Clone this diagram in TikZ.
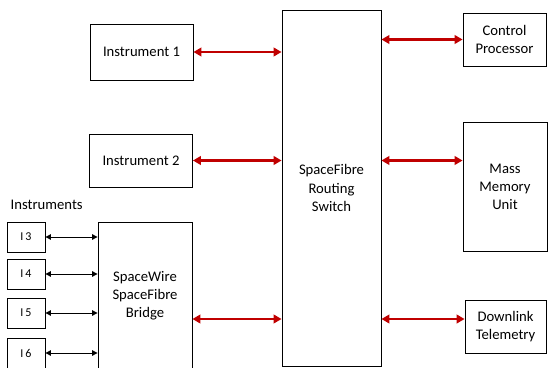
\documentclass[tikz,border=0pt]{standalone}
\usepackage{fontspec}
\setmainfont{Carlito}
\usetikzlibrary{arrows.meta,positioning}
\definecolor{linkred}{HTML}{C00000}

\begin{document}
\begin{tikzpicture}[x=.75pt,y=-.75pt,
  blk/.style={draw,line width=.65pt,fill=white,align=center,inner sep=1pt,font=\fontsize{11}{13.6}\selectfont},
  ins/.style={blk,minimum width=28.5pt,minimum height=22.5pt,font=\fontsize{9}{11}\selectfont},
  sfl/.style={{Triangle[length=6pt,width=6.5pt]}-{Triangle[length=6pt,width=6.5pt]},linkred,line width=2pt},
  swl/.style={{Triangle[length=4pt,width=4pt]}-{Triangle[length=4pt,width=4pt]},line width=.75pt}]
\useasboundingbox (0,0) rectangle (555,367);
\clip (0,0) rectangle (555,367);
\node[blk,minimum width=77.25pt,minimum height=42pt] (inst1) at (141.5,52) {Instrument 1};
\node[blk,minimum width=77.25pt,minimum height=39.75pt] (inst2) at (141,160.5) {Instrument 2};
\node[blk,minimum width=74.25pt,minimum height=267pt] (switch) at (331.5,188) {SpaceFibre\\Routing\\Switch};
\node[blk,minimum width=62.25pt,minimum height=39.75pt] (ctrl) at (504.5,39.5) {Control\\Processor};
\node[blk,minimum width=63pt,minimum height=96.75pt] (mmu) at (505,186.5) {Mass\\Memory\\Unit};
\node[blk,minimum width=60.75pt,minimum height=39.75pt] (dlt) at (505.5,326.5) {Downlink\\Telemetry};
\node[blk,minimum width=70.5pt,minimum height=111pt] (bridge) at (145,296) {SpaceWire\\SpaceFibre\\Bridge};
\node[font=\fontsize{11}{13}\selectfont,anchor=west] (instlbl) at (6,205) {Instruments};
\foreach \n/\y in {3/237,4/274,5/313,6/353}{
  \node[ins] (i\n) at (26,\y) {I\,\n};
  \draw[swl] (i\n.east) -- (i\n.east -| bridge.west);
}
\coordinate (lowlink) at (0,319);
\draw[sfl] (inst1.east) -- (inst1.east -| switch.west);
\draw[sfl] (inst2.east) -- (inst2.east -| switch.west);
\draw[sfl] (bridge.east |- lowlink) -- (switch.west |- lowlink);
\draw[sfl] (switch.east |- ctrl.west) -- (ctrl.west);
\draw[sfl] (switch.east |- inst2.east) -- (mmu.west |- inst2.east);
\draw[sfl] (switch.east |- lowlink) -- (dlt.west |- lowlink);
\end{tikzpicture}
\end{document}
